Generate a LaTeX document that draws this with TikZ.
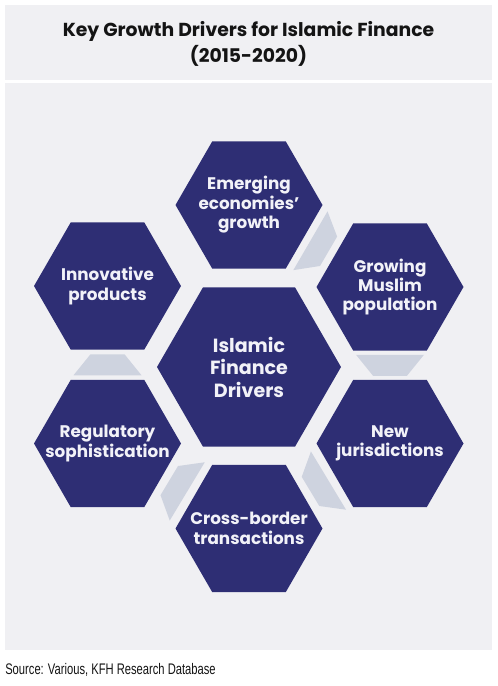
\documentclass[tikz,border=0pt]{standalone}
\usepackage{fontspec}
\setmainfont{Poppins}
\newfontfamily\srcfont[FakeStretch=0.73]{Liberation Sans}
\usetikzlibrary{shapes.geometric,calc}
\definecolor{navy}{RGB}{46,46,116}
\definecolor{panel}{RGB}{240,240,243}
\definecolor{linkgray}{RGB}{206,211,223}
\definecolor{hextext}{RGB}{242,242,248}
\definecolor{titletext}{RGB}{20,20,20}
\tikzset{
  hexshape/.style={regular polygon, regular polygon sides=6, fill=navy, draw=none,
    inner sep=0pt, outer sep=0pt, minimum size=110.25pt},
  hubshape/.style={hexshape, minimum size=138pt},
  hexlabel/.style={text=hextext, align=center, inner sep=0pt,
    font=\fontsize{12.6}{14.6}\selectfont\bfseries},
  hublabel/.style={hexlabel, font=\fontsize{14.3}{16.9}\selectfont\bfseries},
  linkfill/.style={fill=linkgray},
  panelbox/.style={fill=panel, draw=none}
}
\newcommand\linkshape[2]{%
  \coordinate (#1-#2-m) at ($(#1)!0.5!(#2)$);
  \coordinate (#1-#2-p) at ($(#1-#2-m)!-7.875pt!(#2)$);
  \coordinate (#1-#2-q) at ($(#1-#2-m)!7.875pt!(#2)$);
  \fill[linkfill] ($(#1-#2-p)!25.5pt!90:(#2)$) -- ($(#1-#2-q)!12.75pt!90:(#2)$)
     -- ($(#1-#2-q)!12.75pt!-90:(#2)$) -- ($(#1-#2-p)!25.5pt!-90:(#2)$) -- cycle;
}
\begin{document}
\begin{tikzpicture}[x=0.75pt,y=-0.75pt]
\useasboundingbox (0,0) rectangle (497,686);
\fill[white] (0,0) rectangle (497,686);
\path[panelbox] (5,5) rectangle (492,80);
\path[panelbox] (5,83) rectangle (492,650);
\node[text=titletext, align=center, font=\fontsize{14.1}{20}\selectfont\bfseries] (title) at (248.5,44)
  {Key Growth Drivers for Islamic Finance\\(2015-2020)};
\node[hexshape] (emerg) at (249,205) {};
\node[hexshape] (muslim) at (390,287) {};
\node[hexshape] (juris) at (390,443.5) {};
\node[hexshape] (cross) at (249,528.5) {};
\node[hexshape] (regul) at (107.5,443.5) {};
\node[hexshape] (innov) at (107.5,286) {};
\node[hubshape] (hub) at (249,367) {};
\node[hexlabel] (emerg-t) at (emerg) {Emerging\\economies'\\growth};
\node[hexlabel] (muslim-t) at (muslim) {Growing\\Muslim\\population};
\node[hexlabel] (juris-t) at (juris) {New\\jurisdictions};
\node[hexlabel] (cross-t) at (cross) {Cross-border\\transactions};
\node[hexlabel] (regul-t) at (regul) {Regulatory\\sophistication};
\node[hexlabel] (innov-t) at (innov) {Innovative\\products};
\node[hublabel] (hub-t) at (hub) {Islamic\\Finance\\Drivers};
\linkshape{emerg}{muslim}
\linkshape{muslim}{juris}
\linkshape{juris}{cross}
\linkshape{cross}{regul}
\linkshape{regul}{innov}
\node[anchor=west, inner sep=0pt, text=titletext, font=\srcfont\fontsize{11.5}{13}\selectfont] (src) at (5,670)
  {Source: Various, KFH Research Database};
\end{tikzpicture}
\end{document}
